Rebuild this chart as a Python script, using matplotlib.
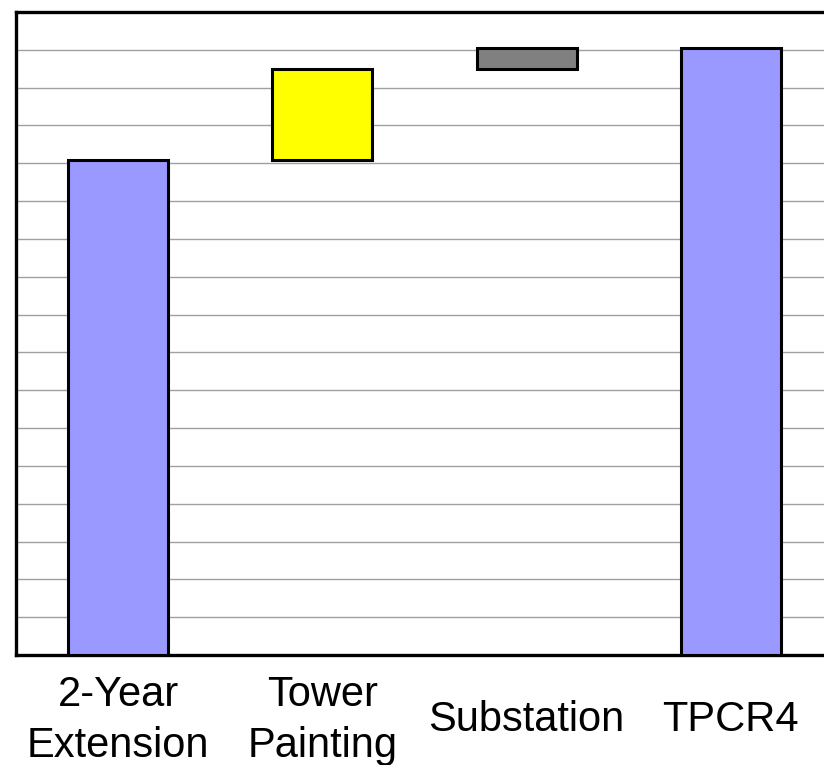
import matplotlib.pyplot as plt

# data (waterfall)
categories = ['2-Year\nExtension', 'Tower\nPainting', 'Substation', 'TPCR4']
bottoms = [0, 13.1, 15.5, 0]
heights = [13.1, 2.4, 0.55, 16.05]
colors = ['#9999FF', '#FFFF00', '#808080', '#9999FF']

plt.rcParams['font.family'] = ['Liberation Sans', 'DejaVu Sans']

fig = plt.figure(figsize=(8.24, 7.65), dpi=100)
ax = fig.add_axes([16 / 824, 110 / 765, 817 / 824, 643 / 765])

x = list(range(len(categories)))
ax.bar(x, heights, bottom=bottoms, width=0.49, color=colors,
       edgecolor='black', linewidth=2.2, zorder=3)

ax.set_xlim(-0.5, 3.5)
ax.set_ylim(0, 17)
ax.set_yticks(range(1, 17))
ax.set_yticklabels([])
ax.yaxis.grid(True, color='#a0a0a0', linewidth=1)
ax.tick_params(axis='both', length=0)

ax.set_xticks(x)
ax.set_xticklabels(categories, fontsize=30, linespacing=1.35)
for lab in ax.get_xticklabels():
    lab.set_va('center')
ax.tick_params(axis='x', pad=47)

for s in ax.spines.values():
    s.set_linewidth(2.4)

fig.savefig('out.png', dpi=100)
